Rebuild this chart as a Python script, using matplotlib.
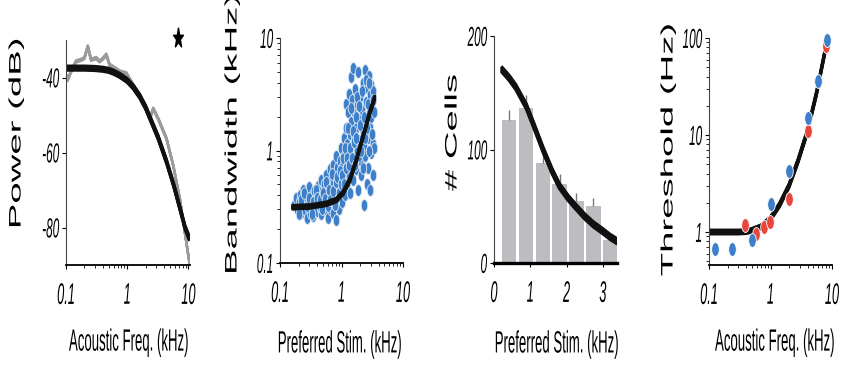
import numpy as np
import matplotlib
matplotlib.use('Agg')
import matplotlib.pyplot as plt
import matplotlib.patheffects as pe
from matplotlib.path import Path
from matplotlib.transforms import Affine2D
from matplotlib.ticker import LogLocator, NullFormatter

plt.rcParams['font.family'] = ['Liberation Sans', 'DejaVu Sans']

# panel 1: sound spectrum (gray) and fit (black)
spec_freq = [0.1, 0.106, 0.121, 0.146, 0.176, 0.2, 0.227, 0.257, 0.311, 0.353, 0.4, 0.455,
             0.515, 0.623, 0.753, 0.969, 1.25, 1.6, 2.07, 2.34, 2.66, 3.21, 4.4, 5.67,
             7.3, 8.8, 10.4]
spec_db = [-39.3, -40.7, -38.4, -35.7, -35.3, -34.8, -31.7, -35.3, -34.8, -35.7, -35.0, -33.9,
           -36.6, -37.5, -38.4, -38.9, -42.0, -44.7, -48.3, -51.0, -48.3, -51.0, -56.4, -63.6,
           -72.7, -81.7, -89.5]
spec_fit_freq = [0.1, 0.2, 0.3, 0.4, 0.5, 0.6, 0.75, 1.0, 1.25, 1.6, 2.0, 2.5, 3.2, 4.4,
                 5.7, 7.3, 8.8, 10.4]
spec_fit_db = [-37.5, -37.5, -37.6, -37.8, -38.1, -38.6, -39.4, -40.8, -42.5, -45.0, -48.0,
               -51.8, -56.0, -62.5, -68.5, -75.0, -80.0, -83.0]
star_pos = (6.7, -29.5)

# panel 2: bandwidth vs preferred stimulus
pref_stim = [0.17, 0.18, 0.19, 0.2, 0.21, 0.22, 0.23, 0.24, 0.25, 0.26, 0.27, 0.28, 0.29,
             0.3, 0.31, 0.32, 0.33, 0.34, 0.35, 0.36, 0.37, 0.38, 0.4, 0.41, 0.42, 0.43,
             0.45, 0.46, 0.47, 0.48, 0.5, 0.52, 0.53, 0.55, 0.56, 0.58, 0.6, 0.6, 0.62,
             0.64, 0.65, 0.67, 0.68, 0.7, 0.72, 0.72, 0.74, 0.76, 0.78, 0.8, 0.8, 0.82,
             0.84, 0.86, 0.88, 0.9, 0.92, 0.94, 0.96, 0.98, 1.0, 1.0, 1.03, 1.05, 1.08,
             1.1, 1.12, 1.15, 1.18, 1.2, 1.2, 1.22, 1.25, 1.28, 1.3, 1.3, 1.33, 1.36, 1.4,
             1.42, 1.45, 1.45, 1.48, 1.5, 1.55, 1.55, 1.58, 1.6, 1.63, 1.66, 1.7, 1.72,
             1.76, 1.8, 1.85, 1.88, 1.9, 1.95, 2.0, 2.05, 2.1, 2.15, 2.2, 2.25, 2.3, 2.35,
             2.4, 2.45, 2.5, 2.55, 2.6, 2.65, 2.7, 2.75, 2.8, 2.9, 2.95, 3.0, 3.05, 3.1,
             3.2, 3.3, 3.4,
             0.2, 0.22, 0.25, 0.27, 0.3, 0.33, 0.35, 0.38, 0.4, 0.44, 0.48, 0.5, 0.54,
             0.57, 0.6, 0.63, 0.66, 0.7, 0.73, 0.77, 0.8, 0.85, 0.9, 0.93, 0.97, 1.02,
             1.06, 1.1, 1.14, 1.18, 1.24, 1.27, 1.32, 1.38, 1.42, 1.5, 1.52, 1.6, 1.65,
             1.7, 1.75, 1.82, 1.9, 1.95, 2.0, 2.1, 2.15, 2.2, 2.3, 2.4, 2.5, 2.55, 2.6,
             2.7, 2.8, 2.85, 2.9, 3.0, 3.1, 3.2, 3.3, 3.35]
bandwidth = [0.33, 0.38, 0.3, 0.35, 0.4, 0.28, 0.33, 0.45, 0.3, 0.38, 0.25, 0.42, 0.33,
             0.47, 0.28, 0.36, 0.4, 0.3, 0.26, 0.44, 0.33, 0.38, 0.29, 0.48, 0.35, 0.4,
             0.31, 0.55, 0.27, 0.44, 0.36, 0.5, 0.3, 0.42, 0.6, 0.33, 0.25, 0.47, 0.38,
             0.68, 0.3, 0.55, 0.42, 0.35, 0.28, 0.75, 0.5, 0.4, 0.6, 0.24, 0.33, 0.9,
             0.46, 0.7, 0.38, 0.55, 0.3, 0.8, 0.62, 1.05, 0.45, 0.35, 0.72, 0.55, 1.3,
             0.9, 0.4, 0.62, 1.6, 0.78, 2.6, 0.5, 1.15, 2.2, 0.95, 3.2, 0.6, 1.4, 0.42,
             0.75, 1.8, 4.5, 2.8, 1.1, 0.55, 5.4, 1.35, 2.2, 0.9, 3.5, 0.68, 1.6, 2.6,
             1.0, 5.0, 0.45, 1.9, 1.25, 3.0, 0.8, 0.6, 2.3, 1.5, 4.0, 0.33, 1.1, 5.2, 0.9,
             2.7, 1.8, 3.6, 0.7, 1.3, 4.6, 2.1, 3.1, 1.6, 0.95, 3.8, 2.4, 1.15, 3.4, 1.05,
             0.27, 0.36, 0.42, 0.32, 0.38, 0.27, 0.35, 0.45, 0.38, 0.36, 0.3, 0.42, 0.37,
             0.52, 0.32, 0.45, 0.36, 0.62, 0.44, 0.33, 0.52, 0.58, 0.42, 0.66, 0.5, 0.6,
             0.85, 0.5, 1.05, 0.7, 0.85, 1.6, 0.75, 1.05, 2.4, 0.85, 1.5, 1.2, 0.75,
             2.0, 1.3, 3.0, 0.9, 2.5, 1.7, 1.0, 3.4, 0.7, 2.0, 1.3, 4.2, 0.5, 1.6,
             2.6, 1.0, 4.0, 0.45, 2.0, 1.4, 2.8, 0.6, 2.2]
bw_fit_freq = [0.154, 0.31, 0.57, 0.83, 1.06, 1.37, 1.75, 2.24, 2.87, 3.5]
bw_fit = [0.313, 0.318, 0.336, 0.364, 0.42, 0.55, 0.83, 1.33, 2.15, 3.0]

# panel 3: histogram of preferred stimulus
bin_centers = [0.42, 0.88, 1.35, 1.81, 2.27, 2.74, 3.2]
cell_counts = [126, 137, 88, 70, 55, 50, 20]
cell_err = [9, 11, 9, 8, 7, 7, 4]
count_fit_x = [0.2, 0.42, 0.6, 0.89, 1.1, 1.35, 1.6, 1.8, 2.05, 2.27, 2.5, 2.74, 3.0, 3.2, 3.4]
count_fit = [171, 163, 155, 138, 121, 100, 81, 68, 57, 49, 41, 34, 28, 23, 19]

# panel 4: threshold vs acoustic frequency
red_freq = [0.39, 0.59, 0.79, 0.97, 2.0, 4.0, 8.1]
red_thr = [1.17, 0.96, 1.12, 1.27, 2.2, 11, 83]
blue_freq = [0.125, 0.24, 0.5, 1.0, 2.0, 4.0, 5.9, 8.4]
blue_thr = [0.67, 0.67, 0.82, 1.96, 4.3, 14.9, 35.7, 96]
thr_fit_freq = [0.1, 0.2, 0.3, 0.4, 0.5, 0.7, 1.0, 1.4, 2.0, 2.8, 4.0, 5.6, 8.0]
thr_fit = [1.0, 1.0, 1.0, 1.01, 1.04, 1.13, 1.38, 1.9, 3.0, 5.4, 11, 27, 82]

BLUE = '#3d80c9'
RED = '#e8453c'
GRAY = '#9b9b9b'
BAR = '#bcbdc0'
SY = 2.33  # the original figure is stretched vertically


class Stretch(pe.AbstractPathEffect):
    """scale glyphs along / across their baseline, like the stretched original"""
    def __init__(self, sx=1.0, sy=1.0, anchor='center'):
        super().__init__()
        self.sx = sx
        self.sy = sy
        self.anchor = anchor

    def draw_path(self, renderer, gc, tpath, affine, rgbFace=None):
        ext = tpath.get_extents()
        x0 = (ext.x0 + ext.x1) / 2
        y0 = ext.y1 if self.anchor == 'top' else (ext.y0 + ext.y1) / 2
        t = Affine2D().translate(-x0, -y0).scale(self.sx, self.sy).translate(x0, y0) + affine
        renderer.draw_path(gc, tpath, t, rgbFace)


def thick(d):
    return [pe.Stroke(offset=(0, k)) for k in np.linspace(-d, d, 7)]


circ = Path.unit_circle()
ellipse = Path(circ.vertices * [0.55, 1], circ.codes)
st = Path.unit_regular_star(5, 0.38)
narrow_star = Path(st.vertices * [0.5, 1], st.codes)

fig = plt.figure(figsize=(8.41, 3.66), dpi=100)
W, H = 841, 366


def make_ax(x0, x1, ytop, ybot):
    return fig.add_axes([x0 / W, 1 - ybot / H, (x1 - x0) / W, (ybot - ytop) / H])


ax1 = make_ax(66, 190, 40, 265)
ax2 = make_ax(280, 403, 38, 263)
ax3 = make_ax(494, 617, 36, 263)
ax4 = make_ax(709, 832, 38, 265)


def setup(ax, xlabel, ylabel, xl, yl):
    for s in ['top', 'right']:
        ax.spines[s].set_visible(False)
    ax.spines['left'].set_color('#444')
    ax.spines['left'].set_linewidth(0.8)
    ax.spines['bottom'].set_linewidth(1.3)
    ax.tick_params(which='major', length=3, width=0.8, direction='out')
    ax.tick_params(which='minor', length=2, width=0.6, direction='out')
    ax.tick_params(axis='x', pad=10, labelsize=9.2)
    ax.tick_params(axis='y', pad=2, labelsize=8.5)
    for t in ax.get_xticklabels():
        t.set_fontstyle('italic')
        t.set_path_effects([Stretch(sy=SY, anchor='top')])
    for t in ax.get_yticklabels():
        t.set_fontstyle('italic')
        t.set_path_effects([Stretch(sy=SY)])
    ax.set_xlabel(xlabel, fontsize=9.5, va='center')
    ax.xaxis.label.set_path_effects([Stretch(sy=SY)])
    ax.xaxis.set_label_coords(*xl)
    ax.set_ylabel(ylabel, fontsize=12, va='center')
    ax.yaxis.label.set_path_effects([Stretch(sx=2.3)])
    ax.yaxis.set_label_coords(*yl)


def log_ticks(axis, vals, labels):
    axis.set_ticks(vals, labels)
    axis.set_minor_locator(LogLocator(base=10, subs=np.arange(2, 10)))
    axis.set_minor_formatter(NullFormatter())


# panel 1
ax1.set_xscale('log')
ax1.plot(spec_freq, spec_db, color=GRAY, lw=1.6, path_effects=thick(0.8))
ax1.plot(spec_fit_freq, spec_fit_db, color='#111', lw=2.0, path_effects=thick(1.6),
         solid_capstyle='butt')
ax1.plot([star_pos[0]], [star_pos[1]], marker=narrow_star, ms=15, color='black',
         clip_on=False, ls='none')
ax1.set_xlim(0.1, 10.6)
ax1.set_ylim(-90, -30)
log_ticks(ax1.xaxis, [0.1, 1, 10], ['0.1', '1', '10'])
ax1.set_yticks([-80, -60, -40], ['-80', '-60', '-40'])
setup(ax1, 'Acoustic Freq. (kHz)', 'Power (dB)', (0.508, -0.347), (-0.403, 0.587))

# panel 2
ax2.set_xscale('log')
ax2.set_yscale('log')
ax2.plot(pref_stim, bandwidth, ls='none', marker=ellipse, ms=8.5, mfc=BLUE,
         mec='#dde8f5', mew=0.6)
ax2.plot(bw_fit_freq, bw_fit, color='#111', lw=2.0, path_effects=thick(1.4),
         solid_capstyle='butt')
ax2.set_xlim(0.1, 10)
ax2.set_ylim(0.1, 10)
log_ticks(ax2.xaxis, [0.1, 1, 10], ['0.1', '1', '10'])
log_ticks(ax2.yaxis, [0.1, 1, 10], ['0.1', '1', '10'])
setup(ax2, 'Preferred Stim. (kHz)', 'Bandwidth (kHz)', (0.488, -0.364), (-0.39, 0.573))

# panel 3
ax3.bar(bin_centers, cell_counts, width=0.4, color=BAR, zorder=1)
ax3.errorbar(bin_centers, cell_counts, yerr=[[0] * len(cell_err), cell_err], fmt='none',
             ecolor='#777', elinewidth=1, capsize=0, zorder=1)
ax3.plot(count_fit_x, count_fit, color='#111', lw=2.2, path_effects=thick(1.9),
         solid_capstyle='butt', zorder=3)
ax3.set_xlim(0, 3.39)
ax3.set_ylim(0, 200)
ax3.set_xticks([0, 1, 2, 3], ['0', '1', '2', '3'])
ax3.set_yticks([0, 100, 200], ['0', '100', '200'])
setup(ax3, 'Preferred Stim. (kHz)', '# Cells', (0.512, -0.361), (-0.341, 0.573))
ax3.spines['bottom'].set_linewidth(2.4)

# panel 4
ax4.set_xscale('log')
ax4.set_yscale('log')
ax4.plot(thr_fit_freq, thr_fit, color='#111', lw=2.0, path_effects=thick(1.5),
         solid_capstyle='butt', zorder=2)
ax4.plot(red_freq, red_thr, ls='none', marker=ellipse, ms=10, mfc=RED, mec='white',
         mew=0.6, zorder=3)
ax4.plot(blue_freq, blue_thr, ls='none', marker=ellipse, ms=10, mfc=BLUE, mec='white',
         mew=0.6, zorder=4, clip_on=False)
ax4.set_xlim(0.1, 10)
ax4.set_ylim(0.457, 100)
log_ticks(ax4.xaxis, [0.1, 1, 10], ['0.1', '1', '10'])
log_ticks(ax4.yaxis, [1, 10, 100], ['1', '10', '100'])
setup(ax4, 'Acoustic Freq. (kHz)', 'Threshold (Hz)', (0.537, -0.344), (-0.333, 0.507))

fig.savefig('out.png', dpi=100)
